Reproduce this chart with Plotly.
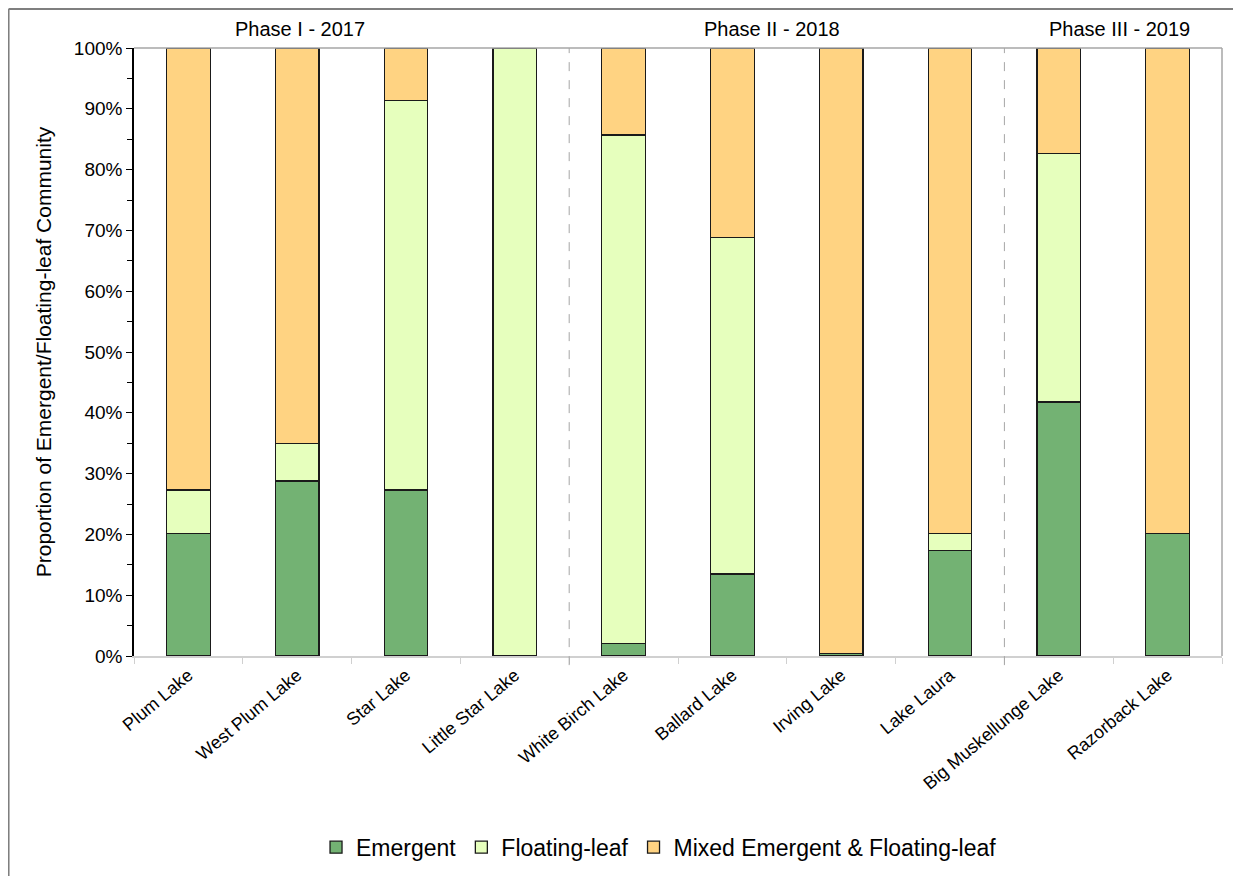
import plotly.graph_objects as go

lakes = ["Plum Lake", "West Plum Lake", "Star Lake", "Little Star Lake", "White Birch Lake",
         "Ballard Lake", "Irving Lake", "Lake Laura", "Big Muskellunge Lake", "Razorback Lake"]
emergent = [0.202, 0.288, 0.273, 0.0, 0.021, 0.135, 0.004, 0.173, 0.418, 0.202]
floating = [0.071, 0.062, 0.641, 1.0, 0.836, 0.553, 0.0, 0.028, 0.408, 0.0]
mixed = [0.727, 0.650, 0.086, 0.0, 0.143, 0.312, 0.996, 0.799, 0.174, 0.798]

phase_labels = ["Phase I - 2017", "Phase II - 2018", "Phase III - 2019"]
phase_pos = [1.03, 5.36, 8.56]
phase_breaks = [3.5, 7.5]

series = [
    ("Emergent", emergent, "#73B273"),
    ("Floating-leaf", floating, "#E6FFBD"),
    ("Mixed Emergent & Floating-leaf", mixed, "#FFD382"),
]

FONT = "Liberation Sans, Arial"

fig = go.Figure()
for name, vals, col in series:
    fig.add_trace(go.Bar(
        x=lakes, y=vals, name=name, width=0.4,
        marker=dict(color=col, line=dict(color="#1a1a1a", width=1.3)),
    ))

shapes = []
for b in phase_breaks:
    shapes.append(dict(type="line", xref="x", yref="paper", x0=b, x1=b, y0=-0.015, y1=1,
                       line=dict(color="#a6a6a6", width=1, dash="dash")))
# plot border top/right
shapes.append(dict(type="line", xref="paper", yref="paper", x0=0, x1=1, y0=1, y1=1,
                   line=dict(color="#a6a6a6", width=1.5)))
shapes.append(dict(type="line", xref="paper", yref="paper", x0=1, x1=1, y0=0, y1=1,
                   line=dict(color="#a6a6a6", width=1.5)))
# outer frame
shapes.append(dict(type="line", xref="paper", yref="paper", x0=-0.1153, x1=1.1, y0=1.0641, y1=1.0641,
                   line=dict(color="#7f7f7f", width=2)))
shapes.append(dict(type="line", xref="paper", yref="paper", x0=-0.1153, x1=-0.1153, y0=-0.4, y1=1.0641,
                   line=dict(color="#7f7f7f", width=2)))

annotations = []
for lab, pos in zip(phase_labels, phase_pos):
    annotations.append(dict(text=lab, x=pos, xref="x", y=1.0, yref="paper", yanchor="middle",
                            yshift=19, showarrow=False,
                            font=dict(size=20, color="black", family=FONT)))

fig.update_layout(
    barmode="stack",
    width=1241, height=876,
    margin=dict(l=126, r=27, t=40, b=228),
    plot_bgcolor="white", paper_bgcolor="white",
    font=dict(family=FONT, color="black"),
    shapes=shapes, annotations=annotations,
    legend=dict(orientation="h", xref="container", yref="container", x=0.5246, xanchor="center",
                y=0.042, yanchor="middle", font=dict(size=23), traceorder="normal",
                itemwidth=30),
    bargap=0.6,
)
fig.update_xaxes(
    tickangle=-40, tickfont=dict(size=18), tickson="boundaries", ticks="outside",
    ticklen=6, tickcolor="#d0d0d0", showline=True, linecolor="#d0d0d0", linewidth=1.5,
    showgrid=False, range=[-0.5, 9.5],
)
fig.update_yaxes(
    range=[0, 1], dtick=0.1, tickformat=".0%", tickfont=dict(size=19),
    ticks="outside", ticklen=6, tickcolor="black", showline=True, linecolor="black",
    linewidth=1.5, showgrid=False, zeroline=False,
    minor=dict(dtick=0.05, ticks="outside", ticklen=5, tickcolor="black"),
    title=dict(text="Proportion of Emergent/Floating-leaf Community", font=dict(size=21), standoff=16),
)

fig.write_html("out.html")
